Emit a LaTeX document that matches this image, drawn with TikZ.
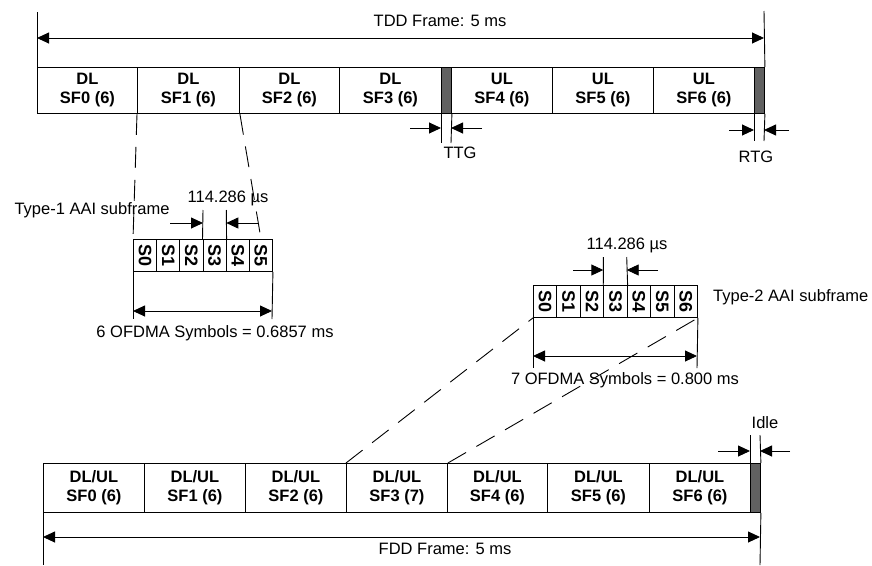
\documentclass[tikz,border=0pt]{standalone}
\usepackage{fontspec}
\setmainfont{Liberation Sans}
\usetikzlibrary{arrows.meta}
\tikzset{
  lw/.style={line width=0.9pt},
  cellbox/.style={draw, lw, rectangle, inner sep=0pt, anchor=north west, align=center,
    font=\fontsize{16.5}{19}\selectfont\bfseries},
  gapbox/.style={draw, lw, rectangle, inner sep=0pt, anchor=north west, fill=black!62},
  symbox/.style={draw, lw, rectangle, inner sep=0pt, anchor=north west,
    minimum height=32pt, font=\fontsize{18}{18}\selectfont\bfseries},
  plain/.style={inner sep=1pt, font=\fontsize{16.5}{19}\selectfont},
  dimline/.style={lw},
  dimarrow/.style={lw, -{Triangle[length=12pt,width=11pt]}},
  dbarrow/.style={lw, {Triangle[length=12pt,width=11pt]}-{Triangle[length=12pt,width=11pt]}},
  zoomline/.style={lw, dash pattern=on 21pt off 12pt},
}
\begin{document}
\begin{tikzpicture}[x=1pt,y=-1pt]
\useasboundingbox (0,0) rectangle (872,565);

% ---------------- TDD frame ----------------
\node[cellbox, minimum width=100pt, minimum height=46pt] (d0) at (37,67) {DL\\SF0 (6)};
\node[cellbox, minimum width=102pt, minimum height=46pt] (d1) at (137,67) {DL\\SF1 (6)};
\node[cellbox, minimum width=100pt, minimum height=46pt] (d2) at (239,67) {DL\\SF2 (6)};
\node[cellbox, minimum width=102pt, minimum height=46pt] (d3) at (339,67) {DL\\SF3 (6)};
\node[gapbox, minimum width=10pt, minimum height=46pt] (ttg) at (441,67) {};
\node[cellbox, minimum width=101pt, minimum height=46pt] (u4) at (451,67) {UL\\SF4 (6)};
\node[cellbox, minimum width=101pt, minimum height=46pt] (u5) at (552,67) {UL\\SF5 (6)};
\node[cellbox, minimum width=101pt, minimum height=46pt] (u6) at (653,67) {UL\\SF6 (6)};
\node[gapbox, minimum width=10pt, minimum height=46pt] (rtg) at (754,67) {};

\coordinate (tddL) at (37,12);
\coordinate (tddR) at (764,11);
\draw[dimline] (tddL) -- (d0.north west);
\draw[dimline] (tddR) -- (rtg.north east);
\coordinate (tddA) at (37,38);
\coordinate (tddB) at (764,38);
\draw[dbarrow] (tddA) -- (tddB);
\node[plain] (tddlab) at (440,21) {TDD Frame: 5 ms};

% TTG
\coordinate (ttgLb) at (441,143);
\coordinate (ttgRb) at (451,143);
\draw[dimline] (ttg.south west) -- (ttgLb);
\draw[dimline] (ttg.south east) -- (ttgRb);
\coordinate (ttgA1) at (410,128);
\coordinate (ttgA2) at (441,128);
\coordinate (ttgB1) at (482,128);
\coordinate (ttgB2) at (451,128);
\draw[dimarrow] (ttgA1) -- (ttgA2);
\draw[dimarrow] (ttgB1) -- (ttgB2);
\node[plain] (ttglab) at (460,153) {TTG};

% RTG
\coordinate (rtgLb) at (754,141);
\coordinate (rtgRb) at (764,141);
\draw[dimline] (rtg.south west) -- (rtgLb);
\draw[dimline] (rtg.south east) -- (rtgRb);
\coordinate (rtgA1) at (729,130);
\coordinate (rtgA2) at (754,130);
\coordinate (rtgB1) at (789,130);
\coordinate (rtgB2) at (764,130);
\draw[dimarrow] (rtgA1) -- (rtgA2);
\draw[dimarrow] (rtgB1) -- (rtgB2);
\node[plain] (rtglab) at (756,157) {RTG};

% ---------------- Type-1 subframe ----------------
\foreach \i in {0,...,5} {
  \node[symbox, minimum width=23.17pt] (ta\i) at ({133+\i*23.17},239) {\rotatebox{-90}{S\i}};
}
\coordinate (ta3t) at (203,210);
\coordinate (ta4t) at (226.3,210);
\draw[dimline] (ta3t) -- (ta3.north west);
\draw[dimline] (ta4t) -- (ta3.north east);
\coordinate (taA1) at (170,223);
\coordinate (taA2) at (203,223);
\coordinate (taB1) at (258,223);
\coordinate (taB2) at (226.3,223);
\draw[dimarrow] (taA1) -- (taA2);
\draw[dimarrow] (taB1) -- (taB2);
\node[plain] (talab) at (228,198) {114.286 µs};
\node[plain] (tatype) at (92,210) {Type-1 AAI subframe};

\coordinate (taLb) at (133,319);
\coordinate (taRb) at (272,319);
\draw[dimline] (ta0.south west) -- (taLb);
\draw[dimline] (ta5.south east) -- (taRb);
\coordinate (taD1) at (133,311);
\coordinate (taD2) at (272,311);
\draw[dbarrow] (taD1) -- (taD2);
\node[plain] (tasym) at (215,333) {6 OFDMA Symbols = 0.6857 ms};

% zoom lines TDD SF1 -> Type-1
\coordinate (taend) at (261,239);
\draw[zoomline] (d1.south west) -- (ta0.north west);
\draw[zoomline] (d1.south east) -- (taend);

% ---------------- Type-2 subframe ----------------
\foreach \i in {0,...,6} {
  \node[symbox, minimum width=23.43pt] (tb\i) at ({533+\i*23.43},285) {\rotatebox{-90}{S\i}};
}
\coordinate (tb3t) at (603.3,257);
\coordinate (tb4t) at (626.7,257);
\draw[dimline] (tb3t) -- (tb3.north west);
\draw[dimline] (tb4t) -- (tb3.north east);
\coordinate (tbA1) at (573,270);
\coordinate (tbA2) at (603.3,270);
\coordinate (tbB1) at (658,270);
\coordinate (tbB2) at (626.7,270);
\draw[dimarrow] (tbA1) -- (tbA2);
\draw[dimarrow] (tbB1) -- (tbB2);
\node[plain] (tblab) at (627,245) {114.286 µs};
\node[plain, anchor=west] (tbtype) at (712,297) {Type-2 AAI subframe};

\coordinate (tbLb) at (533,368);
\coordinate (tbRb) at (697,368);
\draw[dimline] (tb0.south west) -- (tbLb);
\draw[dimline] (tb6.south east) -- (tbRb);
\coordinate (tbD1) at (533,356);
\coordinate (tbD2) at (697,356);
\draw[dbarrow] (tbD1) -- (tbD2);
\node[plain] (tbsym) at (625,380) {7 OFDMA Symbols = 0.800 ms};

% ---------------- FDD frame ----------------
\node[cellbox, minimum width=101pt, minimum height=49pt] (f0) at (43,463) {DL/UL\\SF0 (6)};
\node[cellbox, minimum width=101pt, minimum height=49pt] (f1) at (144,463) {DL/UL\\SF1 (6)};
\node[cellbox, minimum width=101pt, minimum height=49pt] (f2) at (245,463) {DL/UL\\SF2 (6)};
\node[cellbox, minimum width=101pt, minimum height=49pt] (f3) at (346,463) {DL/UL\\SF3 (7)};
\node[cellbox, minimum width=100pt, minimum height=49pt] (f4) at (447,463) {DL/UL\\SF4 (6)};
\node[cellbox, minimum width=102pt, minimum height=49pt] (f5) at (547,463) {DL/UL\\SF5 (6)};
\node[cellbox, minimum width=101pt, minimum height=49pt] (f6) at (649,463) {DL/UL\\SF6 (6)};
\node[gapbox, minimum width=10pt, minimum height=49pt] (idle) at (750,463) {};

% zoom lines FDD SF3 -> Type-2
\draw[zoomline] (f3.north west) -- (tb0.south west);
\draw[zoomline] (f3.north east) -- (tb6.south east);

\coordinate (fddLb) at (43,565);
\coordinate (fddRb) at (760,565);
\draw[dimline] (f0.south west) -- (fddLb);
\draw[dimline] (idle.south east) -- (fddRb);
\coordinate (fddA) at (43,537);
\coordinate (fddB) at (760,537);
\draw[dbarrow] (fddA) -- (fddB);
\node[plain] (fddlab) at (445,549) {FDD Frame: 5 ms};

% Idle
\coordinate (idLt) at (750,435);
\coordinate (idRt) at (760,435);
\draw[dimline] (idle.north west) -- (idLt);
\draw[dimline] (idle.north east) -- (idRt);
\coordinate (idA1) at (718,451);
\coordinate (idA2) at (750,451);
\coordinate (idB1) at (790,451);
\coordinate (idB2) at (760,451);
\draw[dimarrow] (idA1) -- (idA2);
\draw[dimarrow] (idB1) -- (idB2);
\node[plain] (idlelab) at (765,423) {Idle};

\end{tikzpicture}
\end{document}
